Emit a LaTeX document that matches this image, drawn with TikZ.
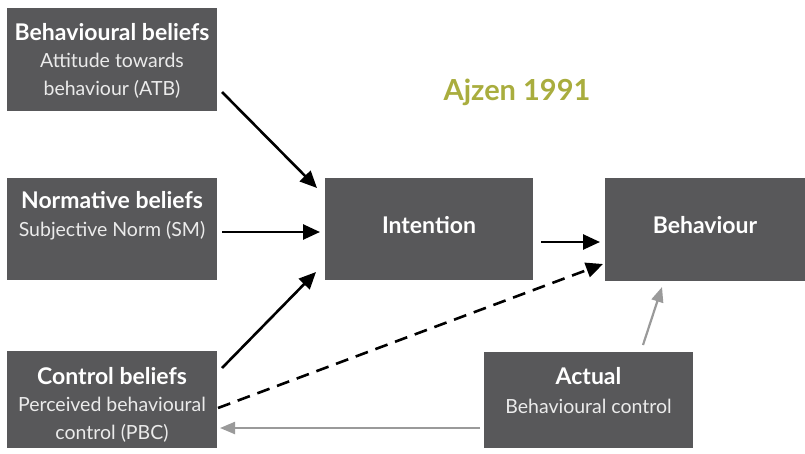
\documentclass[tikz,border=0pt]{standalone}
\usepackage{fontspec}
\setmainfont{Lato}
\usetikzlibrary{arrows.meta}
\definecolor{boxgray}{HTML}{58585A}
\definecolor{olive}{HTML}{A9AD3E}
\definecolor{lightarrow}{HTML}{9A9A9A}
\tikzset{
  box/.style={draw=none, fill=boxgray, minimum width=#1, inner sep=0pt},
  hd/.style={text=white, font=\fontsize{23}{26}\selectfont\bfseries, inner sep=0pt},
  sub/.style={text=white!92!black, font=\fontsize{19.5}{28}\selectfont, inner sep=0pt, align=center},
  blk/.style={line width=2.6pt, draw=black, -{Triangle[length=17pt,width=15pt]}},
  gry/.style={line width=2.2pt, draw=lightarrow, -{Triangle[length=15pt,width=12pt]}},
}
\begin{document}
\begin{tikzpicture}[x=1pt,y=-1pt]
\useasboundingbox (0,0) rectangle (805,453);
% boxes
\node[box=210pt, minimum height=103pt] (bb) at (112,59.5) {};
\node[box=210pt, minimum height=102pt] (nb) at (112,229) {};
\node[box=210pt, minimum height=97pt] (cb) at (112,399.5) {};
\node[box=208pt, minimum height=102pt] (in) at (429,229) {};
\node[box=200pt, minimum height=103pt] (be) at (705,229.5) {};
\node[box=209pt, minimum height=96pt] (ac) at (588.5,400) {};
% texts
\node[hd] (bbt) at (112,32) {Behavioural beliefs};
\node[sub] (bbs) at (112,76) {Attitude towards\\behaviour (ATB)};
\node[hd] (nbt) at (112,200) {Normative beliefs};
\node[sub] (nbs) at (112,231) {Subjective Norm (SM)};
\node[hd] (cbt) at (112,376) {Control beliefs};
\node[sub] (cbs) at (112,420) {Perceived behavioural\\control (PBC)};
\node[hd] (int) at (429,225) {Intention};
\node[hd] (bet) at (705,225) {Behaviour};
\node[hd] (act) at (588.5,376) {Actual};
\node[sub] (acs) at (588.5,406) {Behavioural control};
\node[text=olive, font=\fontsize{29}{31}\selectfont\bfseries, inner sep=0pt] (title) at (517,92) {Ajzen 1991};
% coordinates for connector ends
\coordinate (bbA) at (222,92);
\coordinate (inA) at (317,188);
\coordinate (nbA) at (222,232);
\coordinate (inB) at (320,232);
\coordinate (cbA) at (222,368);
\coordinate (inC) at (316,272);
\coordinate (inD) at (541,242);
\coordinate (beA) at (600,242);
\coordinate (cbB) at (218,408);
\coordinate (beB) at (603,264);
\coordinate (acA) at (643,345);
\coordinate (beC) at (662,287);
\coordinate (acB) at (480,428);
\coordinate (cbC) at (220,428);
% connectors
\draw[blk] (bbA) -- (inA);
\draw[blk] (nbA) -- (inB);
\draw[blk] (cbA) -- (inC);
\draw[blk] (inD) -- (beA);
\draw[blk, dash pattern=on 13pt off 8pt] (cbB) -- (beB);
\draw[gry] (acA) -- (beC);
\draw[gry] (acB) -- (cbC);
\end{tikzpicture}
\end{document}
